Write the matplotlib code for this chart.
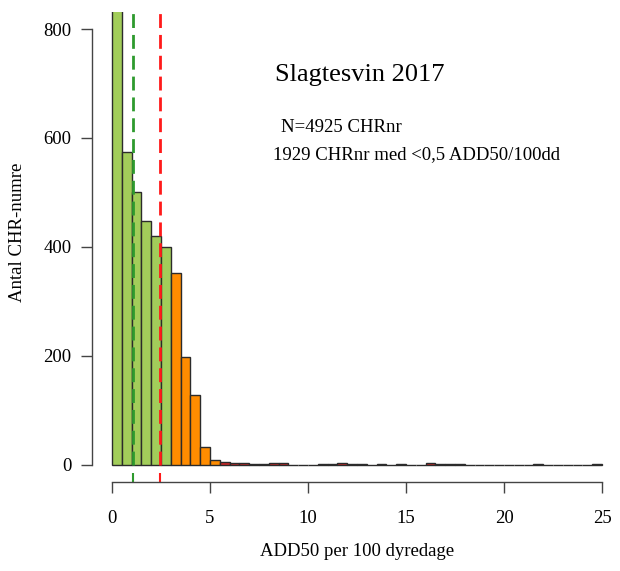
import numpy as np
import matplotlib
matplotlib.use('Agg')
import matplotlib.pyplot as plt

## histogram data, bins of 0.5 from 0 to 25 (left edges)
bin_width = 0.5
bin_left = np.arange(0, 25, bin_width)
counts = [1929, 575, 500, 448, 420, 399, 352, 197, 127, 33,   # 0 - 5
          9, 4, 2, 2, 1, 1, 2, 2, 0, 0,                        # 5 - 10
          0, 1, 1, 3, 1, 1, 0, 1, 0, 1,                        # 10 - 15
          0, 0, 2, 1, 1, 1, 0, 0, 0, 0,                        # 15 - 20
          0, 0, 0, 1, 0, 0, 0, 0, 0, 1]                        # 20 - 25

median_val = 1.08   # green dashed line
mean_val = 2.46     # red dashed line

title = 'Slagtesvin 2017'
info_lines = ['N=4925 CHRnr', '1929 CHRnr med <0,5 ADD50/100dd']
x_label = 'ADD50 per 100 dyredage'
y_label = 'Antal CHR-numre'
x_ticks = [0, 5, 10, 15, 20, 25]
y_ticks = [0, 200, 400, 600, 800]

## colours per bar
def bar_colour(left):
    if left < 3:
        return '#A2CD5A'
    elif left < 5.5:
        return '#FF8C00'
    return '#CD2626'

colours = [bar_colour(b) for b in bin_left]

plt.rcParams['font.family'] = ['Liberation Serif', 'DejaVu Serif']

W, H = 620, 571
fig = plt.figure(figsize=(W / 100, H / 100), dpi=100)
# plot region in pixels (R style: 4% axis extension)
left_px, right_px, top_px, bot_px = 92.4, 621.6, 11.6, 482.0
ax = fig.add_axes([left_px / W, 1 - bot_px / H,
                   (right_px - left_px) / W, (bot_px - top_px) / H])

ax.bar(bin_left, counts, width=bin_width, align='edge', color=colours,
       edgecolor='#2b2b2b', linewidth=1.0)

ax.vlines([median_val], 0, 2000, colors='#2E9A2E', linestyles=(0, (5, 2.5)), linewidth=2)
ax.vlines([mean_val], 0, 2000, colors='#FF1A1A', linestyles=(0, (5, 2.5)), linewidth=2)

# rug marks on the x axis
ax.vlines([median_val], -32, -15, colors='#2E9A2E', linewidth=1.5, clip_on=False)
ax.vlines([mean_val], -32, -15, colors='#FF1A1A', linewidth=1.5, clip_on=False)

ax.set_xlim(-1, 26)
ax.set_ylim(-32, 832)

for s in ['top', 'right']:
    ax.spines[s].set_visible(False)
ax.spines['left'].set_bounds(0, 800)
ax.spines['bottom'].set_bounds(0, 25)
for s in ['left', 'bottom']:
    ax.spines[s].set_color('#444444')
    ax.spines[s].set_linewidth(1.0)

ax.set_xticks(x_ticks)
ax.set_yticks(y_ticks)
ax.tick_params(axis='both', length=8, width=1.0, color='#444444',
               labelsize=13.5, pad=7)
ax.tick_params(axis='x', pad=12)

fig.text(357 / W, 1 - 552 / H, x_label, ha='center', va='center', fontsize=13.5)
fig.text(18 / W, 1 - 232 / H, y_label, ha='center', va='center',
         rotation=90, fontsize=13.5)

fig.text(275 / W, 1 - 75 / H, title, ha='left', va='center', fontsize=19)
fig.text(281 / W, 1 - 128 / H, info_lines[0], ha='left', va='center', fontsize=13.5)
fig.text(273 / W, 1 - 155 / H, info_lines[1], ha='left', va='center', fontsize=13.5)

fig.savefig('out.png', dpi=100)
